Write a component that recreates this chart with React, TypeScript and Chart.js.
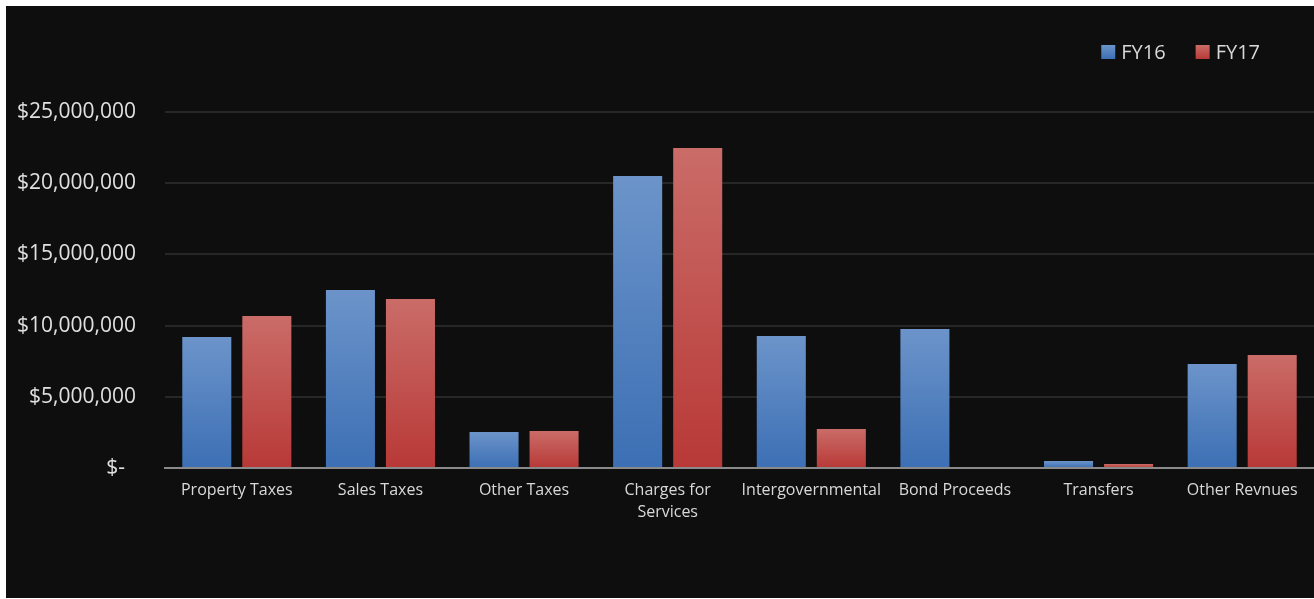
import React, { useEffect, useRef } from "react";
import { Chart, registerables } from "chart.js";

Chart.register(...registerables);

const categories: (string | string[])[] = [
  "Property Taxes",
  "Sales Taxes",
  "Other Taxes",
  ["Charges for", "Services"],
  "Intergovernmental",
  "Bond Proceeds",
  "Transfers",
  "Other Revnues",
];
const seriesNames = ["FY16", "FY17"];
const fy16 = [9200000, 12500000, 2530000, 20500000, 9270000, 9760000, 490000, 7300000];
const fy17 = [10670000, 11870000, 2600000, 22470000, 2740000, 0, 280000, 7940000];
const yTicks = [0, 5000000, 10000000, 15000000, 20000000, 25000000];

const BLUE_TOP = "rgb(108,148,202)";
const BLUE_BOT = "rgb(60,111,180)";
const RED_TOP = "rgb(202,108,104)";
const RED_BOT = "rgb(184,57,55)";

function gradientFill(top: string, bot: string) {
  return (ctx: any) => {
    const chart = ctx.chart;
    const { chartArea, scales } = chart;
    if (!chartArea || ctx.type !== "data" || !scales.y) return bot;
    const v = ctx.raw as number;
    const y0 = scales.y.getPixelForValue(v);
    const y1 = scales.y.getPixelForValue(0);
    if (y1 - y0 < 1) return bot;
    const g = chart.ctx.createLinearGradient(0, y0, 0, y1);
    g.addColorStop(0, top);
    g.addColorStop(1, bot);
    return g;
  };
}

const legendPlugin = {
  id: "customLegend",
  afterDraw(chart: any) {
    const c = chart.ctx as CanvasRenderingContext2D;
    c.save();
    c.font = '20px "Open Sans"';
    c.textBaseline = "middle";
    c.textAlign = "left";
    const box = 14;
    const gap = 6;
    const itemGap = 30;
    const items = chart.data.datasets.map((d: any, i: number) => ({
      text: d.label as string,
      w: c.measureText(d.label).width,
      colors: i === 0 ? [BLUE_TOP, BLUE_BOT] : [RED_TOP, RED_BOT],
    }));
    const total =
      items.reduce((s: number, it: any) => s + box + gap + it.w, 0) + itemGap * (items.length - 1);
    let x = chart.width - 54 - total;
    const cy = 46;
    items.forEach((it: any) => {
      const g = c.createLinearGradient(0, cy - box / 2, 0, cy + box / 2);
      g.addColorStop(0, it.colors[0]);
      g.addColorStop(1, it.colors[1]);
      c.fillStyle = g;
      c.fillRect(x, cy - box / 2, box, box);
      c.fillStyle = "#d9d9d9";
      c.fillText(it.text, x + box + gap, cy + 1);
      x += box + gap + it.w + itemGap;
    });
    c.restore();
  },
};

export default function App() {
  const ref = useRef<HTMLCanvasElement>(null);
  useEffect(() => {
    if (!ref.current) return;
    const chart = new Chart(ref.current, {
      type: "bar",
      data: {
        labels: categories,
        datasets: [
          {
            label: seriesNames[0],
            data: fy16,
            backgroundColor: gradientFill(BLUE_TOP, BLUE_BOT),
            categoryPercentage: 0.836,
            barPercentage: 0.817,
          },
          {
            label: seriesNames[1],
            data: fy17,
            backgroundColor: gradientFill(RED_TOP, RED_BOT),
            categoryPercentage: 0.836,
            barPercentage: 0.817,
          },
        ],
      },
      options: {
        responsive: false,
        animation: false,
        devicePixelRatio: 1,
        layout: { padding: { top: 106, left: 0, right: 0, bottom: 0 } },
        plugins: {
          legend: { display: false },
          tooltip: { enabled: false },
        },
        scales: {
          x: {
            grid: { display: false, drawTicks: false },
            border: { display: true, color: "#8a8a8a", width: 2 },
            ticks: {
              color: "#d9d9d9",
              font: { family: "Open Sans", size: 16, lineHeight: "22px" as any },
              padding: 11,
              maxRotation: 0,
              autoSkip: false,
            },
            afterFit: (s: any) => {
              s.height = 130;
            },
          },
          y: {
            min: 0,
            max: 25000000,
            afterBuildTicks: (s: any) => {
              s.ticks = yTicks.map((v) => ({ value: v }));
            },
            grid: { color: "#272727", lineWidth: 2, drawTicks: false },
            border: { display: false },
            ticks: {
              color: "#e0e0e0",
              font: { family: "Open Sans", size: 21 },
              padding: 29,
              callback: (v: any) =>
                Number(v) === 0 ? "$-  " : "$" + Number(v).toLocaleString("en-US"),
            },
            afterFit: (s: any) => {
              s.width = 159;
            },
          },
        },
      },
      plugins: [legendPlugin],
    });
    return () => chart.destroy();
  }, []);
  return (
    <div
      style={{
        position: "fixed",
        left: 6,
        top: 6,
        width: 1308,
        height: 592,
        background: "#0e0e0e",
      }}
    >
      <canvas ref={ref} width={1308} height={592} style={{ display: "block" }} />
    </div>
  );
}
